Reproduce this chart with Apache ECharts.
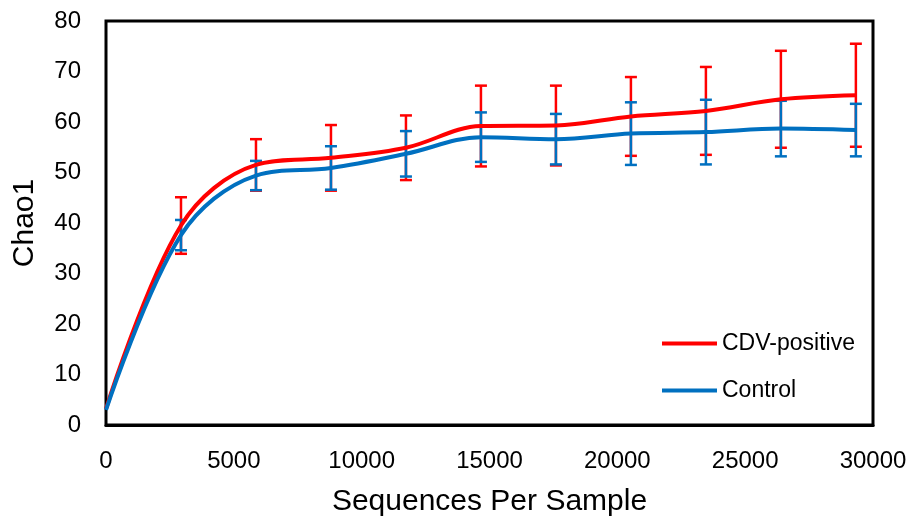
<!DOCTYPE html>
<html>
<head>
<meta charset="utf-8">
<script src="https://cdn.jsdelivr.net/npm/echarts@6/dist/echarts.min.js"></script>
<style>html,body{margin:0;padding:0;background:#fff;}#c{width:912px;height:522px;}</style>
</head>
<body>
<div id="c"></div>
<script>
const depths = [0, 2933, 5866, 8799, 11732, 14665, 17598, 20531, 23464, 26397, 29330];
const cdvMean = [3.2, 39.5, 51.5, 52.9, 54.9, 59.2, 59.3, 61.1, 62.2, 64.5, 65.3];
const cdvErr = [0, 5.6, 5.1, 6.5, 6.4, 8.0, 7.9, 7.8, 8.7, 9.6, 10.2];
const ctrlMean = [3.0, 37.6, 49.4, 50.9, 53.7, 57.0, 56.6, 57.7, 58.0, 58.7, 58.4];
const ctrlErr = [0, 3.0, 2.9, 4.3, 4.5, 4.9, 5.0, 6.2, 6.4, 5.5, 5.2];
const seriesNames = ['CDV-positive', 'Control'];
const colors = ['#FF0000', '#0070C0'];

const chart = echarts.init(document.getElementById('c'), null, {renderer: 'canvas'});
const FONT = '"Liberation Sans", Arial, sans-serif';

function errData(mean, err) {
  return depths.map((d, i) => [d, mean[i] - err[i], mean[i] + err[i]]).filter((r, i) => err[i] > 0);
}
function errRender(color) {
  return function (params, api) {
    const x = api.value(0);
    const lo = api.coord([x, api.value(1)]);
    const hi = api.coord([x, api.value(2)]);
    const hw = 6;
    const style = {stroke: color, lineWidth: 2.5};
    return {
      type: 'group',
      children: [
        {type: 'line', shape: {x1: lo[0], y1: lo[1], x2: hi[0], y2: hi[1]}, style: style},
        {type: 'line', shape: {x1: lo[0] - hw, y1: lo[1], x2: lo[0] + hw, y2: lo[1]}, style: style},
        {type: 'line', shape: {x1: hi[0] - hw, y1: hi[1], x2: hi[0] + hw, y2: hi[1]}, style: style}
      ]
    };
  };
}

chart.setOption({
  animation: false,
  backgroundColor: '#fff',
  grid: {left: 106, right: 39, top: 21, bottom: 91, show: true, borderColor: '#000', borderWidth: 3, backgroundColor: 'transparent'},
  xAxis: {
    type: 'value', min: 0, max: 30000, interval: 5000,
    name: 'Sequences Per Sample', nameLocation: 'middle', nameGap: 62,
    nameTextStyle: {fontFamily: FONT, fontSize: 30, color: '#000'},
    axisLine: {show: true, onZero: false, lineStyle: {color: '#000', width: 3}},
    axisTick: {show: false},
    splitLine: {show: false},
    axisLabel: {fontFamily: FONT, fontSize: 24, color: '#000', margin: 24, formatter: v => String(v)}
  },
  yAxis: {
    type: 'value', min: 0, max: 80, interval: 10,
    name: 'Chao1', nameLocation: 'middle', nameGap: 66, nameRotate: 90,
    nameTextStyle: {fontFamily: FONT, fontSize: 30, color: '#000'},
    axisLine: {show: true, lineStyle: {color: '#000', width: 2}},
    axisTick: {show: false},
    splitLine: {show: false},
    axisLabel: {fontFamily: FONT, fontSize: 24, color: '#000', margin: 25}
  },
  legend: {
    orient: 'vertical', left: 657, top: 327,
    itemWidth: 55, itemHeight: 4, itemGap: 24,
    textStyle: {fontFamily: FONT, fontSize: 23, color: '#000', lineHeight: 23},
    data: seriesNames.map(n => ({name: n, icon: 'rect'}))
  },
  series: [
    {type: 'custom', name: 'cdvErr', renderItem: errRender(colors[0]), data: errData(cdvMean, cdvErr), z: 1, silent: true},
    {type: 'custom', name: 'ctrlErr', renderItem: errRender(colors[1]), data: errData(ctrlMean, ctrlErr), z: 2, silent: true},
    {type: 'line', name: seriesNames[0], data: depths.map((d, i) => [d, cdvMean[i]]), smooth: 0.35, showSymbol: false, symbol: 'none',
     lineStyle: {color: colors[0], width: 4}, itemStyle: {color: colors[0]}, z: 3},
    {type: 'line', name: seriesNames[1], data: depths.map((d, i) => [d, ctrlMean[i]]), smooth: 0.35, showSymbol: false, symbol: 'none',
     lineStyle: {color: colors[1], width: 4}, itemStyle: {color: colors[1]}, z: 4}
  ]
});
</script>
</body>
</html>
